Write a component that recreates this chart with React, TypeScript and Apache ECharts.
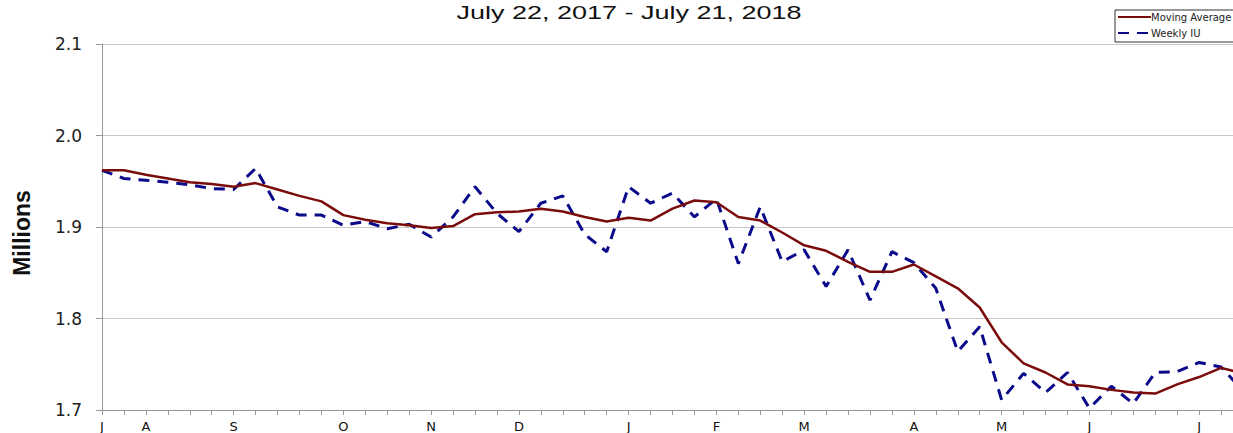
import React, { useEffect, useRef } from "react";
import * as echarts from "echarts";

const titleText = "July 22, 2017 - July 21, 2018";
const yAxisName = "Millions";
const seriesNames = ["Moving Average", "Weekly IU"];

const categories = [
  "2017-07-22", "2017-07-29",
  "2017-08-05", "2017-08-12", "2017-08-19", "2017-08-26",
  "2017-09-02", "2017-09-09", "2017-09-16", "2017-09-23", "2017-09-30",
  "2017-10-07", "2017-10-14", "2017-10-21", "2017-10-28",
  "2017-11-04", "2017-11-11", "2017-11-18", "2017-11-25",
  "2017-12-02", "2017-12-09", "2017-12-16", "2017-12-23", "2017-12-30",
  "2018-01-06", "2018-01-13", "2018-01-20", "2018-01-27",
  "2018-02-03", "2018-02-10", "2018-02-17", "2018-02-24",
  "2018-03-03", "2018-03-10", "2018-03-17", "2018-03-24", "2018-03-31",
  "2018-04-07", "2018-04-14", "2018-04-21", "2018-04-28",
  "2018-05-05", "2018-05-12", "2018-05-19", "2018-05-26",
  "2018-06-02", "2018-06-09", "2018-06-16", "2018-06-23", "2018-06-30",
  "2018-07-07", "2018-07-14", "2018-07-21",
];

const monthLetters = ["J", "F", "M", "A", "M", "J", "J", "A", "S", "O", "N", "D"];

const movingAverage = [
  1.962, 1.962, 1.957, 1.953, 1.949, 1.947, 1.944, 1.948, 1.941, 1.934,
  1.928, 1.913, 1.908, 1.904, 1.902, 1.899, 1.901, 1.914, 1.916, 1.917,
  1.92, 1.917, 1.911, 1.906, 1.91, 1.907, 1.92, 1.929, 1.927, 1.911,
  1.907, 1.894, 1.88, 1.874, 1.862, 1.851, 1.851, 1.859, 1.846, 1.833,
  1.812, 1.774, 1.751, 1.741, 1.728, 1.726, 1.722, 1.719, 1.718, 1.728,
  1.736, 1.746, 1.74,
];

const weeklyIU = [
  1.962, 1.953, 1.951, 1.949, 1.946, 1.942, 1.941, 1.964, 1.922, 1.913,
  1.913, 1.902, 1.906, 1.898, 1.903, 1.889, 1.911, 1.944, 1.915, 1.895,
  1.926, 1.934, 1.892, 1.873, 1.944, 1.926, 1.937, 1.911, 1.931, 1.86,
  1.922, 1.862, 1.875, 1.835, 1.875, 1.82, 1.873, 1.861, 1.833, 1.764,
  1.791, 1.711, 1.74, 1.719, 1.741, 1.702, 1.726, 1.707, 1.741, 1.742,
  1.752, 1.747, 1.721,
];

export default function App() {
  const ref = useRef<HTMLDivElement>(null);
  useEffect(() => {
    if (!ref.current) return;
    const chart = echarts.init(ref.current, undefined, { renderer: "svg" });
    const font = "Arial, 'Liberation Sans', sans-serif";
    const wide = "'DejaVu Sans', Arial, sans-serif";
    chart.setOption({
      animation: false,
      backgroundColor: "#ffffff",
      textStyle: { fontFamily: font },
      graphic: [
        {
          type: "text",
          x: 629,
          y: 12,
          scaleX: 1.42,
          style: {
            text: titleText,
            fontFamily: font,
            fontSize: 19,
            fill: "#111",
            textAlign: "center",
            textVerticalAlign: "middle",
          },
        },
      ],
      legend: {
        left: 1115,
        top: 10,
        orient: "vertical",
        itemWidth: 33,
        itemHeight: 10,
        itemGap: 6,
        padding: [2, 8, 4, 2],
        borderColor: "#333",
        borderWidth: 1,
        backgroundColor: "#fff",
        itemStyle: { color: "transparent", borderColor: "transparent", borderWidth: 0, opacity: 0 },
        textStyle: { fontSize: 10, color: "#222", fontFamily: wide, padding: [0, 0, 0, -5] },
        data: seriesNames,
      },
      grid: { left: 102, top: 44, bottom: 23, width: 1141 },
      xAxis: {
        type: "category",
        boundaryGap: false,
        data: categories,
        axisLine: { lineStyle: { color: "#999", width: 1 } },
        axisTick: { show: true, interval: 0, length: 5, lineStyle: { color: "#999" } },
        axisLabel: {
          interval: 0,
          margin: 10,
          fontSize: 13,
          color: "#111",
          fontFamily: wide,
          formatter: (v: string, i: number) => {
            const d = parseInt(v.slice(8, 10), 10);
            const m = parseInt(v.slice(5, 7), 10);
            if (i === 0 || d <= 7) return monthLetters[m - 1];
            return "";
          },
        },
        splitLine: { show: false },
      },
      yAxis: {
        type: "value",
        min: 1.7,
        max: 2.1,
        interval: 0.1,
        name: yAxisName,
        nameLocation: "middle",
        nameGap: 69,
        nameTextStyle: {
          fontSize: 23,
          fontWeight: "bold",
          color: "#111",
          fontFamily: font,
          padding: [0, 12, 0, 0],
        },
        axisLine: { show: true, lineStyle: { color: "#999", width: 1 } },
        axisTick: { show: true, length: 6, lineStyle: { color: "#999" } },
        axisLabel: {
          fontSize: 17,
          color: "#222",
          margin: 20,
          fontFamily: wide,
          formatter: (v: number) => v.toFixed(1),
        },
        splitLine: { lineStyle: { color: "#c8c8c8", width: 1 } },
      },
      series: [
        {
          name: seriesNames[0],
          type: "line",
          data: movingAverage,
          symbol: "none",
          lineStyle: { color: "#7b0c0c", width: 2.5 },
          itemStyle: { color: "#7b0c0c" },
          z: 3,
        },
        {
          name: seriesNames[1],
          type: "line",
          data: weeklyIU,
          symbol: "none",
          lineStyle: { color: "#0a0a8a", width: 3, type: [11, 8] },
          itemStyle: { color: "#0a0a8a" },
          z: 2,
        },
      ],
    });
    return () => chart.dispose();
  }, []);
  return (
    <div
      style={{
        position: "fixed",
        left: 0,
        top: 0,
        width: 1233,
        height: 433,
        overflow: "hidden",
      }}
    >
      <div ref={ref} style={{ width: 1252, height: 433 }} />
    </div>
  );
}
